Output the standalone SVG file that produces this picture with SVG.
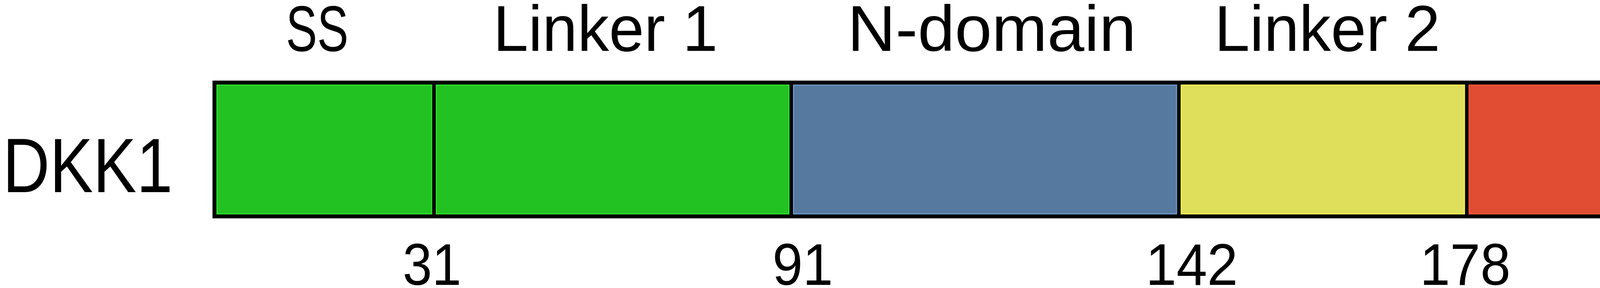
<svg xmlns="http://www.w3.org/2000/svg" width="5354" height="736" viewBox="0 0 5354 736">
  <style>
    text { font-family: "Liberation Sans", Arial, sans-serif; fill: #000; text-anchor: middle; }
    .lbl { font-size: 165px; }
    .num { font-size: 150px; }
    .name { font-size: 196px; text-anchor: start; }
    .seg { stroke-width: 3; }
  </style>
  <rect width="5354" height="736" fill="#ffffff"/>
  <g id="protein-bar">
    <rect x="544" y="206" width="4689" height="352" fill="#000000"/>
  </g>
  <g id="SS">
    <rect class="seg" x="555.5" y="217.5" width="549.5" height="329" fill="#22C222" stroke="#2EE02E"/>
    <text class="lbl" x="812" y="130" textLength="160" lengthAdjust="spacingAndGlyphs">SS</text>
  </g>
  <g id="Linker1">
    <rect class="seg" x="1117" y="217.5" width="902.5" height="329" fill="#22C222" stroke="#2EE02E"/>
    <text class="lbl" x="1550" y="130" textLength="575" lengthAdjust="spacingAndGlyphs">Linker 1</text>
  </g>
  <g id="N-domain">
    <rect class="seg" x="2031.5" y="217.5" width="980.5" height="329" fill="#56799F" stroke="#6C97C6"/>
    <text class="lbl" x="2539" y="130" textLength="739" lengthAdjust="spacingAndGlyphs">N-domain</text>
  </g>
  <g id="Linker2">
    <rect class="seg" x="3024" y="217.5" width="725" height="329" fill="#E0DF5B" stroke="#F4F150"/>
    <text class="lbl" x="3398" y="130" textLength="578" lengthAdjust="spacingAndGlyphs">Linker 2</text>
  </g>
  <g id="C-domain">
    <rect class="seg" x="3761" y="217.5" width="1460.5" height="329" fill="#E14D33" stroke="#F55534"/>
    <text class="lbl" x="4457" y="130" textLength="719" lengthAdjust="spacingAndGlyphs">C-domain</text>
  </g>
  <g id="protein-name">
    <text class="name" x="7" y="491" textLength="435" lengthAdjust="spacingAndGlyphs">DKK1</text>
  </g>
  <g id="positions">
    <text class="num" x="1106" y="728" textLength="150" lengthAdjust="spacingAndGlyphs">31</text>
    <text class="num" x="2055" y="728" textLength="155" lengthAdjust="spacingAndGlyphs">91</text>
    <text class="num" x="3051" y="728" textLength="236" lengthAdjust="spacingAndGlyphs">142</text>
    <text class="num" x="3751" y="728" textLength="232" lengthAdjust="spacingAndGlyphs">178</text>
    <text class="num" x="5231" y="728" textLength="238" lengthAdjust="spacingAndGlyphs">266</text>
  </g>
</svg>
